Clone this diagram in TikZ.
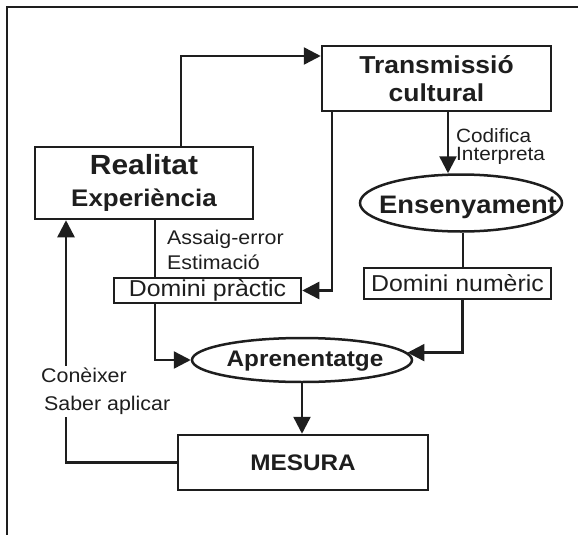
\documentclass[tikz,border=0pt]{standalone}
\usepackage{fontspec}
\setmainfont[FakeStretch=1.08]{Liberation Sans}
\usetikzlibrary{arrows.meta,positioning,shapes.geometric}
\definecolor{cInk}{RGB}{30,30,30}
\tikzset{
  box/.style={draw=cInk, line width=2.5pt, inner sep=0pt, align=center},
  oval/.style={ellipse, draw=cInk, line width=2.5pt, inner sep=0pt},
  big/.style={font=\bfseries\fontsize{24.5}{28}\selectfont, text=cInk, inner sep=0pt, align=center},
  mid/.style={font=\bfseries\fontsize{22.5}{26}\selectfont, text=cInk, inner sep=0pt},
  dom/.style={box, font=\fontsize{23}{26}\selectfont, text=cInk},
  lbl/.style={font=\fontsize{19.5}{18}\selectfont, text=cInk, inner sep=0pt, align=left},
  arr/.style={-{Triangle[length=17pt,width=17pt]}, line width=2.5pt, draw=cInk},
  lin/.style={line width=2.5pt, draw=cInk},
}

\begin{document}
\begin{tikzpicture}[x=1pt,y=-1pt]
  \useasboundingbox (0,0) rectangle (578,535);
  % frame
  \draw[lin, line width=1.8pt] (7,535) -- (7,7) -- (578,7);

  % boxes
  \node[box, big, minimum width=229pt, minimum height=65pt] (trans) at (436.5,78.5) {Transmissió\\cultural};
  \node[box, minimum width=218pt, minimum height=72pt, text=cInk,
        font=\bfseries\fontsize{24}{32}\selectfont] (real) at (144,183)
        {{\fontsize{27.7}{32}\selectfont Realitat\hspace{16pt}}\\Experiència};
  \node[oval, minimum width=202pt, minimum height=57pt] (ens) at (461,203) {};
  \node[big, font=\bfseries\fontsize{25.3}{28}\selectfont, anchor=base] (enst) at (468,213) {Ensenyament};
  \node[dom, minimum width=187pt, minimum height=25pt] (prac) at (207.5,290.5) {Domini pràctic};
  \node[dom, minimum width=187pt, minimum height=31pt] (num) at (457.5,283.5) {Domini numèric};
  \node[oval, minimum width=220pt, minimum height=44pt] (apr) at (302,360) {};
  \node[mid, anchor=base] (aprt) at (305,366) {Aprenentatge};
  \node[box, mid, minimum width=250pt, minimum height=55pt] (mes) at (303,462.5) {MESURA};

  % labels
  \node[lbl, anchor=north west, font=\fontsize{19.2}{18}\selectfont] (codi) at (456,128) {Codifica\\Interpreta};
  \node[lbl, anchor=north west, font=\fontsize{19.8}{25}\selectfont] (assa) at (167,230) {Assaig-error\\Estimació};

  % connectors
  \draw[arr] ([xshift=37pt]real.north) |- ([yshift=22.5pt]trans.west);
  \draw[arr] ([xshift=-104.5pt]trans.south) |- (prac.east);
  \draw[lin] ([xshift=11pt]real.south) -- ([xshift=11pt]real.south |- prac.north);
  \draw[arr] ([xshift=11.5pt]trans.south) -- ([xshift=11.5pt]trans.south |- ens.north);
  \draw[lin] ([xshift=2pt]ens.south) -- ([xshift=2pt]ens.south |- num.north);
  \draw[arr] ([xshift=5pt]num.south) |- (apr.4);
  \draw[arr] ([xshift=-52.5pt]prac.south) |- (apr.west);
  \draw[arr] (apr.south) -- (apr.south |- mes.north);
  \draw[arr] (mes.west) -| ([xshift=-78pt]real.south);

  % label over the return line
  \node[lbl, anchor=north west, fill=white, inner sep=2pt,
        font=\fontsize{19.8}{28}\selectfont] (cone) at (39,366) {Conèixer\\\hspace{3pt}Saber aplicar};
\end{tikzpicture}
\end{document}
